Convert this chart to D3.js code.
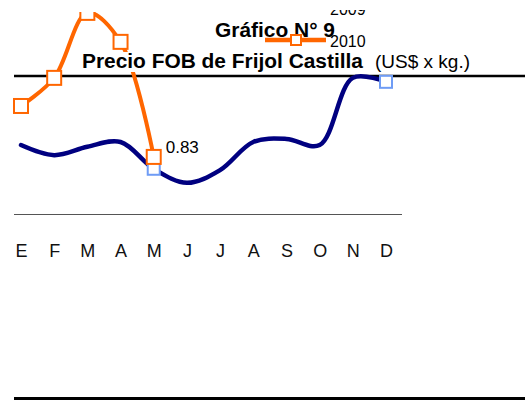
<!doctype html>
<html lang="es">
<head>
<meta charset="utf-8">
<title>Precio FOB de Frijol Castilla</title>
<style>
  body { margin: 0; background: #fff; }
  svg { display: block; font-family: Arial, "Liberation Sans", sans-serif; }
</style>
</head>
<body>
<div id="chart"></div>
<script src="https://cdn.jsdelivr.net/npm/d3@7"></script>
<script>
// meses y precios (US$ x kg.)
var meses = ["E", "F", "M", "A", "M", "J", "J", "A", "S", "O", "N", "D"];
var precio2009 = [0.857, 0.834, 0.853, 0.864, 0.803, 0.771, 0.800, 0.864, 0.871, 0.857, 1.010, 1.001];
var precio2010 = [0.946, 1.010, 1.158, 1.092, 0.830];
var series = ["2009", "2010"];
var marcados2009 = [4, 11];   // puntos con marcador en 2009

var width = 525, height = 400;
var naranja = "#ff6600", azul = "#000080", celeste = "#6f9cf5";

var svg = d3.select("#chart").append("svg")
    .attr("width", width)
    .attr("height", height);

var x = d3.scalePoint()
    .domain(d3.range(meses.length))
    .range([21, 386]);

var y = d3.scaleLinear()
    .domain([0.70, 1.16])
    .range([214, 12]);

// recortes
svg.append("clipPath").attr("id", "plot")
  .append("rect").attr("x", 0).attr("y", 12).attr("width", width).attr("height", 300);
svg.append("clipPath").attr("id", "legtxt")
  .append("rect").attr("x", 0).attr("y", 10).attr("width", width).attr("height", 60);
svg.append("clipPath").attr("id", "legsym")
  .append("rect").attr("x", 0).attr("y", 15).attr("width", width).attr("height", 60);

// lineas negras
svg.append("line")
    .attr("x1", 14).attr("x2", width).attr("y1", 76).attr("y2", 76)
    .style("stroke", "#000").style("stroke-width", 2.5);
svg.append("line")
    .attr("x1", 14).attr("x2", width).attr("y1", 398.5).attr("y2", 398.5)
    .style("stroke", "#000").style("stroke-width", 3);

// eje x
var xAxis = svg.append("g")
    .attr("transform", "translate(0,214)")
    .call(d3.axisBottom(x).tickSize(0).tickPadding(30).tickFormat(function (i) { return meses[i]; }));
xAxis.select(".domain").attr("d", "M14,0.5H402").style("stroke", "#555").style("stroke-width", 1);
xAxis.selectAll("text").style("font-size", "18px").style("fill", "#111")
    .style("font-family", "Arial, 'Liberation Sans', sans-serif");

var line = d3.line()
    .x(function (d, i) { return x(i); })
    .y(function (d) { return y(d); })
    .curve(d3.curveCatmullRom.alpha(0.5));

var plot = svg.append("g").attr("clip-path", "url(#plot)");

// 2009
plot.append("path")
    .datum(precio2009)
    .attr("d", line)
    .style("fill", "none")
    .style("stroke", azul)
    .style("stroke-width", 4.5)
    .style("stroke-linecap", "round");

plot.selectAll(".m2009")
    .data(marcados2009)
    .enter().append("rect")
    .attr("class", "m2009")
    .attr("x", function (i) { return x(i) - 6; })
    .attr("y", function (i) { return y(precio2009[i]) - 6; })
    .attr("width", 12).attr("height", 12)
    .style("fill", "#fff")
    .style("stroke", celeste)
    .style("stroke-width", 2);

// 2010
plot.append("path")
    .datum(precio2010)
    .attr("d", line)
    .style("fill", "none")
    .style("stroke", naranja)
    .style("stroke-width", 4);

plot.selectAll(".m2010")
    .data(precio2010)
    .enter().append("rect")
    .attr("class", "m2010")
    .attr("x", function (d, i) { return x(i) - 7; })
    .attr("y", function (d) { return y(d) - 7; })
    .attr("width", 14).attr("height", 14)
    .style("fill", "#fff")
    .style("stroke", naranja)
    .style("stroke-width", 2);

// etiqueta del ultimo valor
var ult = precio2010.length - 1;
svg.append("text")
    .attr("x", x(ult) + 12)
    .attr("y", y(precio2010[ult]) - 4)
    .style("font-size", "17px")
    .style("fill", "#000")
    .text(d3.format(".2f")(precio2010[ult]));

// titulos
svg.append("text")
    .attr("x", 215).attr("y", 37)
    .attr("textLength", 120).attr("lengthAdjust", "spacingAndGlyphs")
    .style("font-size", "20px").style("font-weight", "bold")
    .text("Gráfico N° 9");

svg.append("rect")
    .attr("x", 80).attr("y", 52).attr("width", 392).attr("height", 20)
    .style("fill", "#fff");
svg.append("text")
    .attr("x", 82).attr("y", 68)
    .attr("textLength", 281).attr("lengthAdjust", "spacingAndGlyphs")
    .style("font-size", "20px").style("font-weight", "bold")
    .text("Precio FOB de Frijol Castilla");
svg.append("text")
    .attr("x", 375).attr("y", 68)
    .attr("textLength", 95).attr("lengthAdjust", "spacingAndGlyphs")
    .style("font-size", "18px")
    .text("(US$ x kg.)");

// leyenda
var legSym = svg.append("g").attr("clip-path", "url(#legsym)");
var legTxt = svg.append("g").attr("clip-path", "url(#legtxt)");
var colores = [azul, naranja];
series.forEach(function (s, i) {
    var ly = 8 + i * 32;
    legSym.append("line")
        .attr("x1", 265).attr("x2", 326).attr("y1", ly).attr("y2", ly)
        .style("stroke", colores[i]).style("stroke-width", 4.5);
    legSym.append("rect")
        .attr("x", 291).attr("y", ly - 5).attr("width", 10).attr("height", 10)
        .style("fill", "#fff")
        .style("stroke", i === 0 ? celeste : naranja)
        .style("stroke-width", 2);
    legTxt.append("text")
        .attr("x", 330).attr("y", ly + 7)
        .style("font-size", "16px")
        .text(s);
});
</script>
</body>
</html>
